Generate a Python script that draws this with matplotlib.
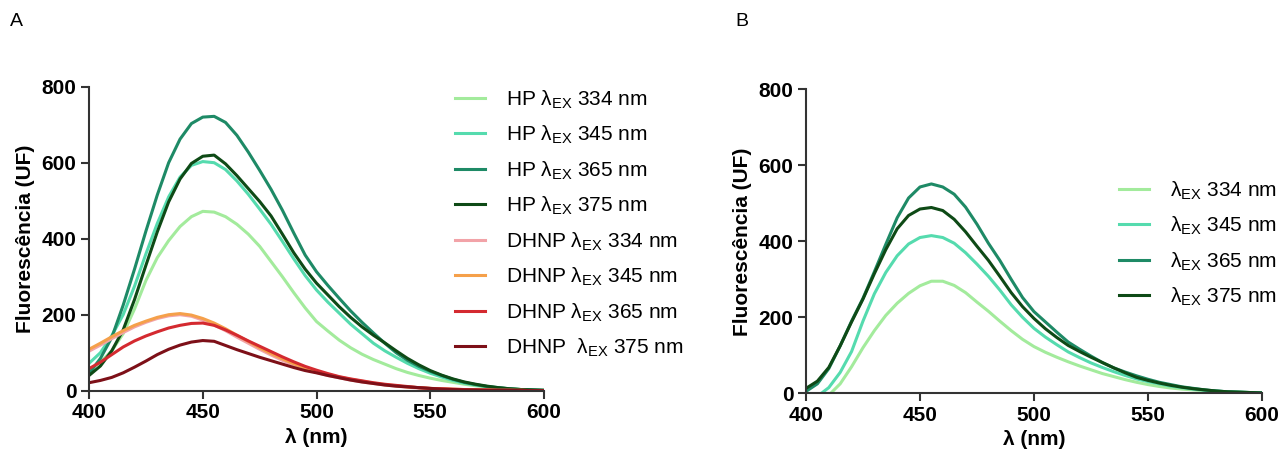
import numpy as np
import matplotlib
matplotlib.use('Agg')
import matplotlib.pyplot as plt

plt.rcParams['font.family'] = ['Liberation Sans', 'DejaVu Sans']
plt.rcParams['mathtext.fontset'] = 'custom'
plt.rcParams['mathtext.rm'] = 'Liberation Sans'

# emission wavelength grid (nm), values every 5 nm
wl = np.arange(400, 601, 5)

# panel A - HP
hp_334 = [55, 75, 105, 150, 215, 290, 350, 395, 432, 458, 472, 470, 458, 438, 412, 380, 340, 300, 258, 218,
          182, 157, 133, 113, 96, 82, 70, 58, 48, 40, 33, 27, 22, 17, 13, 10, 7, 5, 3, 2, 1]
hp_345 = [72, 100, 145, 200, 275, 360, 440, 510, 562, 593, 603, 600, 582, 552, 517, 478, 438, 393, 347, 303,
          265, 233, 204, 175, 150, 125, 105, 88, 72, 58, 46, 36, 27, 20, 15, 11, 7, 5, 3, 2, 1]
hp_365 = [45, 85, 140, 225, 320, 420, 515, 600, 662, 703, 720, 722, 706, 672, 628, 580, 530, 475, 415, 357,
          313, 277, 243, 210, 180, 152, 125, 100, 80, 64, 51, 40, 30, 22, 16, 11, 8, 5, 3, 2, 1]
hp_375 = [40, 65, 105, 160, 240, 330, 418, 497, 557, 598, 617, 620, 597, 566, 532, 498, 460, 412, 363, 320,
          283, 252, 221, 193, 168, 146, 126, 105, 85, 68, 53, 41, 31, 23, 17, 12, 8, 5, 3, 2, 1]
# panel A - DHNP
dhnp_334 = [104, 120, 137, 153, 168, 180, 190, 197, 200, 196, 186, 173, 158, 141, 125, 109, 94, 80, 68, 57,
            48, 40, 34, 28, 23, 19, 15, 12, 9, 7, 6, 4, 3, 3, 2, 1, 1, 1, 0, 0, 0]
dhnp_345 = [109, 125, 142, 158, 172, 183, 193, 200, 203, 199, 190, 178, 163, 146, 130, 113, 98, 84, 71, 60,
            51, 43, 36, 30, 25, 20, 16, 13, 10, 8, 6, 5, 4, 3, 2, 2, 1, 1, 1, 0, 0]
dhnp_365 = [58, 75, 95, 115, 131, 144, 155, 165, 172, 177, 178, 172, 160, 146, 131, 117, 103, 89, 76, 64,
            54, 45, 37, 31, 26, 21, 17, 14, 11, 8, 6, 5, 4, 3, 2, 2, 1, 1, 1, 0, 0]
dhnp_375 = [21, 27, 35, 47, 62, 78, 95, 109, 120, 128, 132, 130, 119, 108, 98, 88, 79, 70, 61, 53,
            47, 40, 34, 28, 23, 19, 15, 12, 10, 8, 6, 4, 3, 2, 2, 1, 1, 1, 0, 0, 0]

# panel B
b_334 = [-50, -30, -5, 25, 70, 120, 165, 205, 237, 263, 283, 295, 295, 284, 265, 240, 216, 190, 165, 142,
         123, 108, 95, 83, 72, 62, 52, 44, 36, 29, 23, 18, 14, 11, 9, 7, 5, 4, 3, 2, 1]
b_345 = [-25, -8, 15, 55, 110, 190, 262, 318, 362, 393, 410, 415, 410, 395, 370, 340, 308, 272, 233, 200,
         171, 148, 128, 109, 94, 80, 68, 57, 47, 38, 31, 25, 19, 15, 11, 8, 6, 4, 3, 2, 1]
b_365 = [5, 25, 65, 125, 190, 250, 320, 392, 462, 514, 543, 551, 543, 524, 490, 445, 395, 350, 300, 252,
         215, 188, 161, 135, 116, 98, 81, 67, 56, 46, 37, 29, 23, 17, 13, 9, 6, 4, 3, 2, 1]
b_375 = [13, 32, 68, 125, 188, 248, 315, 378, 433, 468, 485, 489, 481, 458, 425, 387, 350, 308, 265, 228,
         197, 170, 147, 126, 110, 95, 81, 67, 54, 42, 34, 27, 21, 16, 12, 9, 6, 4, 3, 2, 1]

colors_hp = ['#a3eb9c', '#55dbae', '#1e8a66', '#0e4a16']
colors_dhnp = ['#f2a3a8', '#f5a04a', '#d42a30', '#7d1018']

lam = 'λ$_{\\mathregular{EX}}$'
labels_a = ['HP ' + lam + ' 334 nm', 'HP ' + lam + ' 345 nm', 'HP ' + lam + ' 365 nm', 'HP ' + lam + ' 375 nm',
            'DHNP ' + lam + ' 334 nm', 'DHNP ' + lam + ' 345 nm', 'DHNP ' + lam + ' 365 nm', 'DHNP  ' + lam + ' 375 nm']
labels_b = [lam + ' 334 nm', lam + ' 345 nm', lam + ' 365 nm', lam + ' 375 nm']

fig = plt.figure(figsize=(12.83, 4.59), dpi=100)
axA = fig.add_axes([0.0694, 0.1488, 0.3546, 0.6623])
axB = fig.add_axes([0.6282, 0.1431, 0.3554, 0.6623])

def style(ax):
    ax.set_xlim(400, 600)
    ax.set_ylim(0, 800)
    ax.set_xticks([400, 450, 500, 550, 600])
    ax.set_yticks([0, 200, 400, 600, 800])
    for s in ['top', 'right']:
        ax.spines[s].set_visible(False)
    for s in ['left', 'bottom']:
        ax.spines[s].set_linewidth(1.5)
        ax.spines[s].set_color('#333333')
    ax.tick_params(direction='out', length=6, width=1.5, color='#333333', labelsize=15, pad=3)
    for t in ax.get_xticklabels() + ax.get_yticklabels():
        t.set_fontweight('bold')
    ax.set_xlabel('λ (nm)', fontsize=15, fontweight='bold', labelpad=4)
    ax.set_ylabel('Fluorescência (UF)', fontsize=15, fontweight='bold', labelpad=5)

leg_kw = dict(loc='upper left', bbox_transform=fig.transFigure, frameon=False, fontsize=15,
              handlelength=1.45, handletextpad=1.0, labelspacing=0.62, borderpad=0, borderaxespad=0)

series_a = [hp_334, hp_345, hp_365, hp_375, dhnp_334, dhnp_345, dhnp_365, dhnp_375]
for vals, c, lab in zip(series_a, colors_hp + colors_dhnp, labels_a):
    axA.plot(wl, vals, color=c, lw=2.2, label=lab)
style(axA)
axA.legend(bbox_to_anchor=(455 / 1283, 1 - 88 / 459), **leg_kw)

series_b = [b_334, b_345, b_365, b_375]
for vals, c, lab in zip(series_b, colors_hp, labels_b):
    axB.plot(wl, vals, color=c, lw=2.2, label=lab)
style(axB)
axB.legend(bbox_to_anchor=(1119 / 1283, 1 - 179 / 459), **leg_kw)

fig.text(10 / 1283, 1 - 22 / 459, 'A', fontsize=14, va='center', ha='left')
fig.text(735 / 1283, 1 - 22 / 459, 'B', fontsize=14, va='center', ha='left')

fig.savefig('out.png', dpi=100)
